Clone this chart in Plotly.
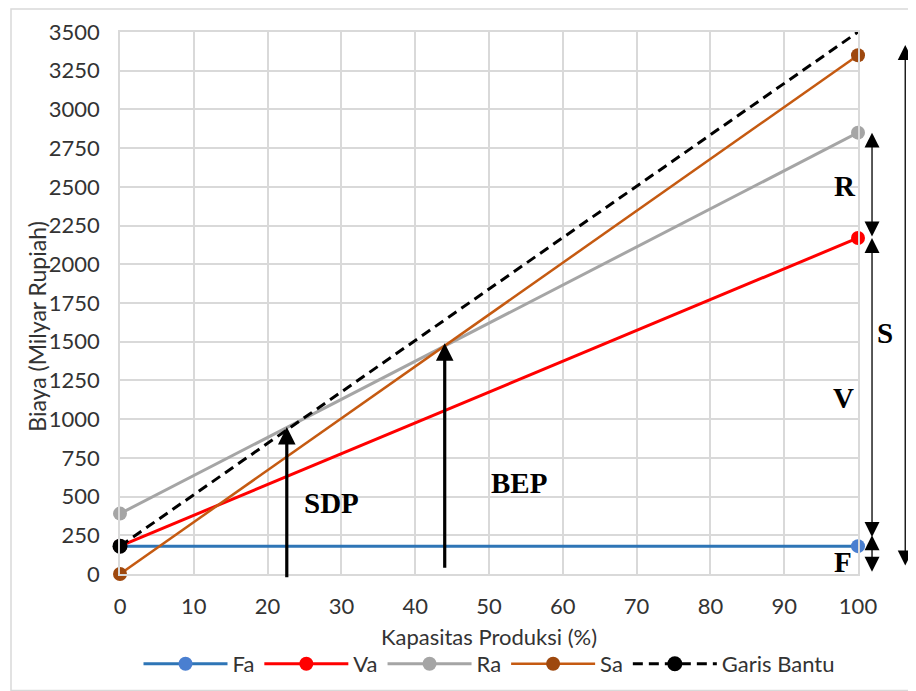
import plotly.graph_objects as go

# ---- data ----
kapasitas = [0, 100]
fa = [180, 180]
va = [180, 2170]
ra = [390, 2850]
sa = [0, 3350]
garis_bantu = [180, 3500]

sdp_x, sdp_y = 22.6, 950
bep_x, bep_y = 44.0, 1490

y_ticks = list(range(0, 3501, 250))
x_ticks = list(range(0, 101, 10))

FONT = "Lato"
FS = 22
TXT = "#333333"

fig = go.Figure()

def add(name, y, line_color, marker_color, width=3, dash=None, msize=14):
    fig.add_trace(go.Scatter(
        x=kapasitas, y=y, name=name, mode="lines+markers",
        line=dict(color=line_color, width=width, dash=dash),
        marker=dict(color=marker_color, size=msize),
        cliponaxis=False))

add("Fa", fa, "#2E75B6", "#4A7FD0")
add("Va", va, "#FF0000", "#FF0000")
add("Ra", ra, "#A5A5A5", "#A5A5A5")
add("Sa", sa, "#C55A11", "#9E480E", width=2.5)
add("Garis Bantu", garis_bantu, "#000000", ["#000000", "rgba(0,0,0,0)"], width=3, dash="10px,6px", msize=15)

ann = []
def arrow(x, y0, y1, width, xref="x", both=False, size=1.0):
    ann.append(dict(x=x, y=y1, ax=0 if xref == "paper" else x, ay=y0,
                    xref=xref, yref="y", axref="pixel" if xref == "paper" else "x", ayref="y",
                    showarrow=True, arrowhead=2, arrowsize=size, arrowwidth=width,
                    arrowcolor="black", text="", standoff=0, startstandoff=0,
                    arrowside="end+start" if both else "end", startarrowhead=2,
                    startarrowsize=size))

arrow(sdp_x, -30, sdp_y, 3.2, size=1.1)
arrow(bep_x, 30, bep_y, 3.2, size=1.1)
arrow(1.019, 2170, 2850, 1.3, xref="paper", both=True, size=2.3)
arrow(1.019, 230, 2170, 1.3, xref="paper", both=True, size=2.3)
arrow(1.019, 5, 250, 1.3, xref="paper", both=True, size=2.3)
arrow(1.064, 45, 3416, 1.3, xref="paper", both=True, size=2.3)

def label(text, x, y, xref="x"):
    ann.append(dict(x=x, y=y, xref=xref, yref="y", text=text, showarrow=False,
                    font=dict(family="Liberation Serif", size=29, color="black", weight="bold")))

label("SDP", 28.6, 458)
label("BEP", 54.0, 590)
label("R", 98.3, 2505)
label("V", 98.0, 1136)
label("F", 98.0, 75)
label("S", 1.05, 1556, xref="paper")

# y-axis title (rotated text, slightly below the plot centre as in the reference)
ann.append(dict(x=-0.1125, y=0.458, xref="paper", yref="paper", text="Biaya (Milyar Rupiah)",
                textangle=-90, showarrow=False, xanchor="center", yanchor="middle",
                font=dict(family=FONT, size=23, color=TXT)))

fig.update_layout(
    width=900, height=691,
    margin=dict(l=112, r=50, t=24, b=125, pad=0),
    paper_bgcolor="white", plot_bgcolor="white",
    font=dict(family=FONT, size=FS, color=TXT),
    showlegend=True,
    legend=dict(orientation="h", x=0.5, xanchor="center", y=-0.166, yanchor="middle",
                font=dict(family=FONT, size=FS, color=TXT), itemwidth=84,
                tracegroupgap=0, borderwidth=0),
    annotations=ann,
    shapes=[dict(type="rect", xref="paper", yref="paper",
                 x0=-0.1477, x1=1.07, y0=-0.215, y1=1.0424,
                 line=dict(color="#D9D9D9", width=1.5), layer="below")],
)
fig.update_xaxes(range=[0, 100], tickvals=x_ticks, showgrid=True, gridcolor="#D9D9D9", gridwidth=1.5,
                 zeroline=False, showline=True, linecolor="#D9D9D9", linewidth=1.5, mirror=True,
                 automargin=False,
                 ticks="", ticklabelstandoff=12, tickfont=dict(family=FONT, size=FS, color=TXT),
                 title=dict(text="Kapasitas Produksi (%)", standoff=11,
                            font=dict(family=FONT, size=FS, color=TXT)))
fig.update_yaxes(range=[0, 3500], tickvals=y_ticks, showgrid=True, gridcolor="#D9D9D9", gridwidth=1.5,
                 zeroline=False, showline=True, linecolor="#D9D9D9", linewidth=1.5, mirror=True,
                 automargin=False,
                 ticks="", ticklabelstandoff=14, tickfont=dict(family=FONT, size=FS, color=TXT))

fig.write_html("out.html")
